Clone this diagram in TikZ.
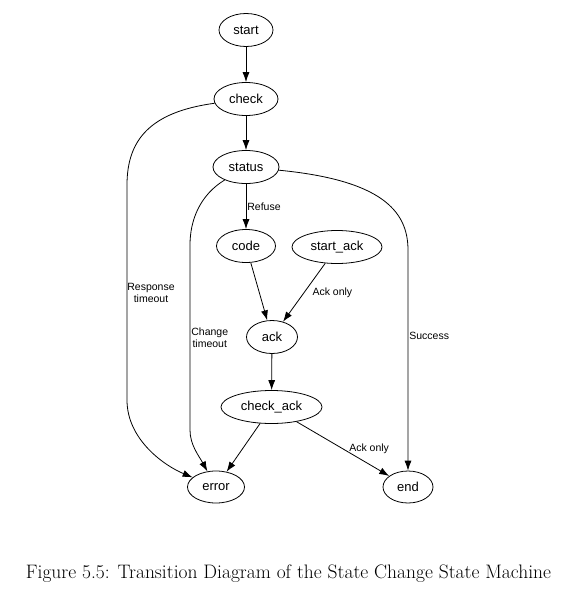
\documentclass[tikz,border=0pt]{standalone}
\usepackage{fontspec}
\newfontfamily\graphfont{Liberation Sans}
\usetikzlibrary{shapes.geometric,arrows.meta}

\tikzset{
	state/.style={draw,ellipse,inner sep=0pt,minimum height=33pt,font=\graphfont\fontsize{13}{15}\selectfont},
	lbl/.style={font=\graphfont\fontsize{10.5}{12}\selectfont,align=center,inner sep=0pt},
}

\begin{document}
\begin{tikzpicture}[x=1pt,y=-1pt,line width=0.8pt,>={Latex[length=10pt,width=7pt]}]
	\useasboundingbox (0,0) rectangle (561,592);
	\node [state,minimum width=54pt] (start) at (246,30) {start};
	\node [state,minimum width=64pt] (check) at (246,99) {check};
	\node [state,minimum width=66pt] (status) at (246,167) {status};
	\node [state,minimum width=59pt] (code) at (246,246) {code};
	\node [state,minimum width=90pt] (startack) at (337,247) {start\_ack};
	\node [state,minimum width=51pt] (ack) at (272,337) {ack};
	\node [state,minimum width=101pt] (checkack) at (271.5,407) {check\_ack};
	\node [state,minimum width=57pt,minimum height=32pt] (error) at (216,487) {error};
	\node [state,minimum width=50pt,minimum height=32pt] (end) at (408,487) {end};
	\draw [->] (start) -- (check);
	\draw [->] (check) -- (status);
	\draw [->] (status) -- node [lbl,right,xshift=1pt] {Refuse} (code);
	\draw [->] (check) .. controls (150,112) and (127,140) .. (127,185) -- node [lbl,right] {Response\\timeout} (127,400) .. controls (127,440) and (165,466) .. (error);
	\draw [->] (status) .. controls (200,195) and (190,220) .. (190,245) -- node [lbl,right,xshift=1pt] {Change\\timeout} (190,430) .. controls (190,445) and (199,456) .. (error);
	\draw [->] (status) .. controls (380,180) and (408,210) .. (408,250) -- node [lbl,right,pos=0.39,xshift=1pt] {Success} (end);
	\draw [->] (code) -- (ack);
	\draw [->] (startack) -- node [lbl,right,xshift=8pt] {Ack only} (ack);
	\draw [->] (ack) -- (checkack);
	\draw [->] (checkack) -- (error);
	\draw [->] (checkack) -- node [lbl,right,xshift=6pt] {Ack only} (end);
	\node [font=\fontsize{19.5}{22}\selectfont,anchor=base,inner sep=0pt] (caption) at (288.5,578) {Figure 5.5: Transition Diagram of the State Change State Machine};
\end{tikzpicture}
\end{document}
